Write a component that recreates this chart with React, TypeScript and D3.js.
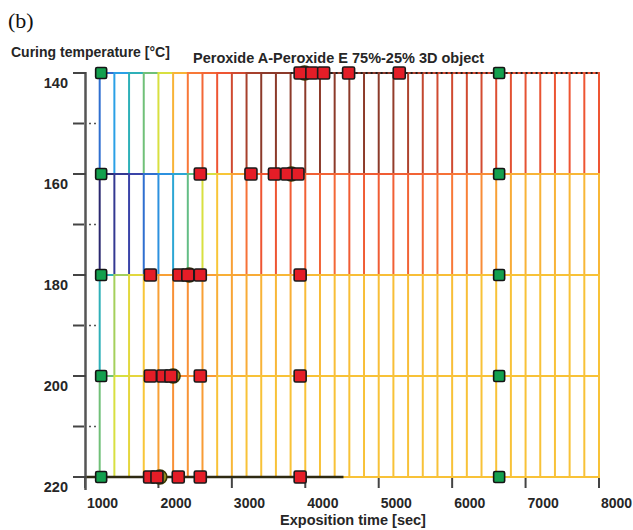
import React from 'react';
import * as d3 from 'd3';

// Exposition-time sampling grid (sec)
const times = [
  1200, 1400, 1600, 1800, 2000, 2200, 2400, 2600, 2800, 3000, 3200, 3400,
  3600, 3800, 4000, 4200, 4400, 4600, 4800, 5000, 5200, 5400, 5600, 5800,
  6000, 6200, 6400, 6600, 6800, 7000, 7200, 7400, 7600, 7800, 8000,
];

// Curing temperatures (°C) of the computed rows
const tempRows = [140, 160, 180, 200, 220];

// Colour-map level of each band between two temperature rows, per time
const band140 = [2, 3, 4, 5, 6, 7.5, 9, 9.5, 10, 11, 11.6, 12, 12, 12, 12, 12, 12, 12, 12, 12, 11.9, 11.5, 11.2, 11, 11, 11, 10.9, 10.6, 10.4, 10.3, 10.2, 10.1, 10, 10, 10];
const band160 = [0, 0.6, 1, 2, 2.7, 3.4, 4.8, 6, 7, 8, 9.2, 10, 10, 9.8, 9.7, 9.6, 9.5, 9.8, 9.8, 9.8, 9.7, 9.6, 9.5, 9.2, 9, 8.8, 8.5, 8, 7.7, 7.5, 7.5, 7.5, 7.4, 7.4, 7.4];
const band180 = [4, 5.5, 6.3, 7, 8, 8.4, 8.4, 8, 7.6, 7.9, 7.7, 7.5, 7.4, 7.6, 7.3, 7.3, 7.2, 7.2, 7.2, 7.2, 7.2, 7.2, 7.2, 7.2, 7.2, 7.2, 7.1, 7.1, 7.1, 7.1, 7.1, 7.1, 7.1, 7.1, 7.1];
const band200 = [5, 6, 6.4, 7, 8, 8.4, 8.3, 8.1, 7.1, 7.4, 7.1, 7.1, 7.1, 7.1, 7.1, 7.1, 7.1, 7.1, 7.1, 7.1, 7.1, 7.1, 7.1, 7.1, 7.1, 7.1, 7.1, 7.1, 7.1, 7.1, 7.1, 7.1, 7.1, 7.1, 7.1];

const colorStops = [
  '#2a2870', '#3a44a8', '#2f6fd0', '#2aa0e6', '#2eb0b8', '#70c078', '#d8e040',
  '#f8c638', '#f8a035', '#f87838', '#ee5533', '#d04a30', '#8c3a2a',
];

// Measured points on each temperature row (exposition time, sec)
const red140 = [3930, 4090, 4250, 4590, 5280];
const red160 = [2570, 3260, 3580, 3750, 3900];
const red180 = [1890, 2280, 2400, 2570, 3930];
const red200 = [1890, 2060, 2170, 2570, 3930];
const red220 = [1880, 1980, 2270, 2570, 3930];
const optimumTimes = [3990, 3810, 2420, 2200, 2020];
const greenTimes = [1220, 6640];

const xTickValues = [1000, 2000, 3000, 4000, 5000, 6000, 7000, 8000];
const yMajorTicks = [140, 160, 180, 200, 220];
const yMinorTicks = [150, 170, 190, 210];

const FONT = '"Liberation Sans", Arial, sans-serif';
const TEXT = '#262626';

export default function App() {
  const x = d3.scaleLinear().domain([1000, 8000]).range([85, 599]);
  const y = d3.scaleLinear().domain([140, 220]).range([73, 477]);
  const color = d3
    .scaleLinear<string>()
    .domain(colorStops.map((_, i) => i))
    .range(colorStops)
    .interpolate(d3.interpolateRgb);

  const bands = [band140, band160, band180, band200];
  const redRows = [red140, red160, red180, red200, red220];

  const verticals: React.ReactNode[] = [];
  bands.forEach((vals, bi) => {
    times.forEach((t, j) => {
      verticals.push(
        <line
          key={`v${bi}-${j}`}
          x1={x(t)}
          x2={x(t)}
          y1={y(tempRows[bi])}
          y2={y(tempRows[bi + 1])}
          stroke={color(vals[j])}
          strokeWidth={2}
        />
      );
    });
  });

  const horizontals: React.ReactNode[] = [];
  tempRows.forEach((temp, ri) => {
    const vals = bands[Math.min(ri, bands.length - 1)];
    for (let j = 0; j < times.length - 1; j++) {
      horizontals.push(
        <line
          key={`h${ri}-${j}`}
          x1={x(times[j]) - 1}
          x2={x(times[j + 1]) + 1}
          y1={y(temp)}
          y2={y(temp)}
          stroke={color(vals[j])}
          strokeWidth={2}
        />
      );
    }
  });

  return (
    <svg
      width={633}
      height={530}
      style={{ position: 'absolute', left: 0, top: 0, background: '#fff' }}
    >
      <text x={8} y={28} fontFamily='"Liberation Serif", "Times New Roman", serif' fontSize={22} fill="#111">
        (b)
      </text>
      <text x={11} y={57} fontFamily={FONT} fontWeight="bold" fontSize={14} fill={TEXT}>
        Curing temperature [°C]
      </text>
      <text x={193} y={63} fontFamily={FONT} fontWeight="bold" fontSize={14.5} fill={TEXT}>
        Peroxide A-Peroxide E 75%-25% 3D object
      </text>

      {verticals}
      {horizontals}

      {/* dotted trace along the 140 °C row */}
      <line
        x1={x(3800)}
        x2={x(8000)}
        y1={y(140)}
        y2={y(140)}
        stroke="#1e1e1e"
        strokeWidth={2}
        strokeDasharray="2 3"
      />

      {/* x axis */}
      <line x1={x(1000)} x2={x(4520)} y1={y(220)} y2={y(220)} stroke="#2e2a12" strokeWidth={2.5} />
      {xTickValues.map((v) => (
        <g key={`xt${v}`}>
          <line x1={x(v)} x2={x(v)} y1={y(220) + 1} y2={y(220) + 11} stroke="#444" strokeWidth={2} />
          <text x={x(v) + 2} y={507.5} fontFamily={FONT} fontWeight="bold" fontSize={14} fill={TEXT}>
            {v}
          </text>
        </g>
      ))}
      <text x={353} y={524.5} textAnchor="middle" fontFamily={FONT} fontWeight="bold" fontSize={14.5} fill={TEXT}>
        Exposition time [sec]
      </text>

      {/* y axis */}
      <line x1={85.5} x2={85.5} y1={y(140) - 1} y2={490} stroke="#555" strokeWidth={2.5} />
      {yMajorTicks.map((v) => (
        <g key={`yt${v}`}>
          <line x1={73} x2={86} y1={y(v)} y2={y(v)} stroke="#444" strokeWidth={2} />
          <text x={68} y={y(v) + 14.5} textAnchor="end" fontFamily={FONT} fontWeight="bold" fontSize={14.5} fill={TEXT}>
            {v}
          </text>
        </g>
      ))}
      {yMinorTicks.map((v) => (
        <g key={`ym${v}`}>
          <line x1={73} x2={84} y1={y(v)} y2={y(v)} stroke="#444" strokeWidth={2} />
          <line x1={89} x2={91} y1={y(v)} y2={y(v)} stroke="#555" strokeWidth={1.5} />
          <line x1={94} x2={96} y1={y(v)} y2={y(v)} stroke="#555" strokeWidth={1.5} />
        </g>
      ))}

      {/* optimum markers (behind the measured points) */}
      {optimumTimes.map((t, i) => (
        <circle
          key={`c${i}`}
          cx={x(t)}
          cy={y(tempRows[i])}
          r={7}
          fill="#8e8a1e"
          stroke="#3a3600"
          strokeWidth={1.5}
        />
      ))}

      {/* boundary points */}
      {tempRows.map((temp, ri) =>
        greenTimes.map((t, k) => (
          <rect
            key={`g${ri}-${k}`}
            x={x(t) - 5.5}
            y={y(temp) - 5.5}
            width={11}
            height={11}
            rx={1.5}
            fill="#13a04e"
            stroke="#141414"
            strokeWidth={1.6}
          />
        ))
      )}

      {/* measured points */}
      {redRows.map((row, ri) =>
        row.map((t, k) => (
          <rect
            key={`r${ri}-${k}`}
            x={x(t) - 6}
            y={y(tempRows[ri]) - 6}
            width={12}
            height={12}
            rx={1.5}
            fill="#e41d27"
            stroke="#1a1a1a"
            strokeWidth={1.6}
          />
        ))
      )}
    </svg>
  );
}
